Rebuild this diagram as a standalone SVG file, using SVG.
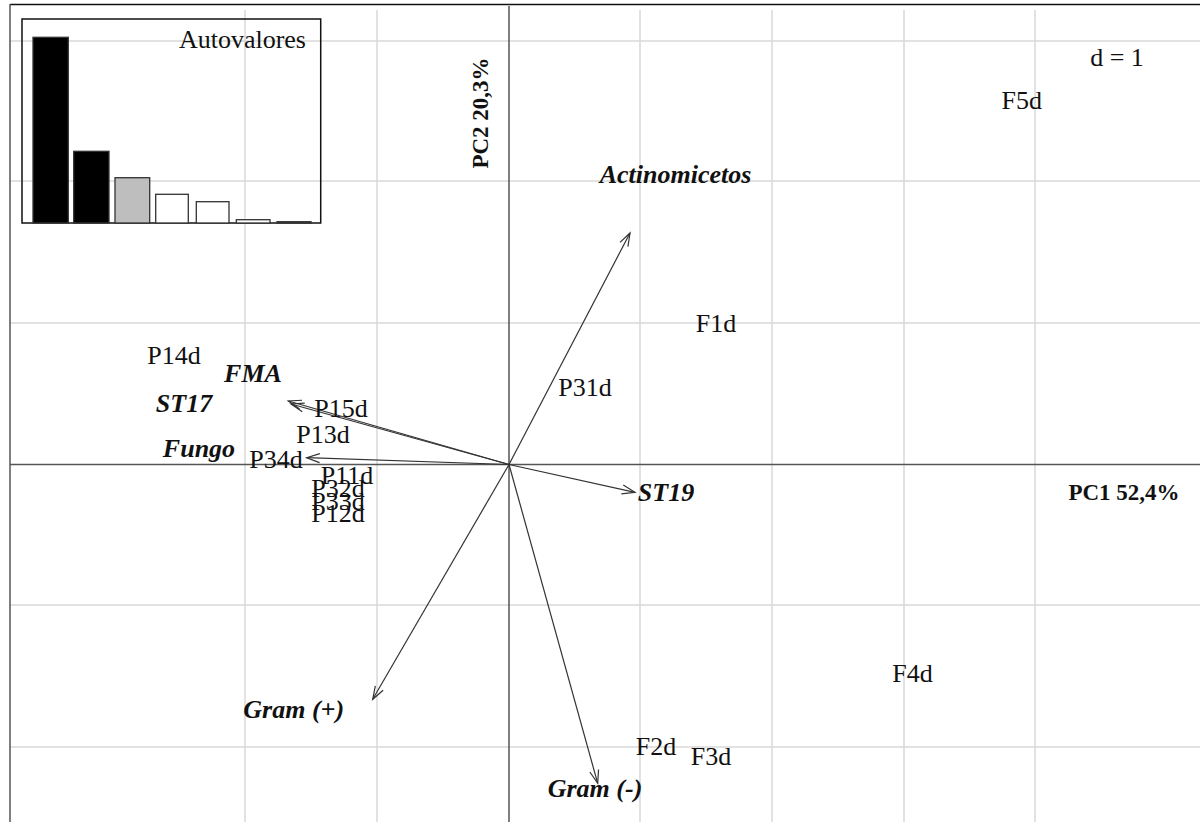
<svg xmlns="http://www.w3.org/2000/svg" width="1200" height="822" viewBox="0 0 1200 822">
<style>
.grid{stroke:#d9d9d9;stroke-width:1.5;fill:none}
.axis{stroke:#555;stroke-width:1.5;fill:none}
.lab{font-family:"Liberation Serif","Times New Roman",serif;font-size:26px;fill:#111;text-anchor:middle}
.var{font-family:"Liberation Serif","Times New Roman",serif;font-size:26px;fill:#111;text-anchor:middle;font-weight:bold;font-style:italic}
.ttl{font-family:"Liberation Serif","Times New Roman",serif;font-size:23px;fill:#111;font-weight:bold}
.arr{stroke:#333;stroke-width:1.2;fill:none;marker-end:url(#ah)}
.bar{stroke:#333;stroke-width:1.3}
</style>
<defs>
<marker id="ah" markerUnits="userSpaceOnUse" markerWidth="16" markerHeight="12" viewBox="0 0 16 12" refX="14" refY="6" orient="auto">
<path d="M1,1.5 L14,6 L1,10.5" fill="none" stroke="#333" stroke-width="1.2"/>
</marker>
</defs>
<rect width="1200" height="822" fill="#fff"/>
<g id="grid">
<path class="grid" d="M245,10V822M377,10V822M640,10V822M772,10V822M904,10V822M1035,10V822"/>
<path class="grid" d="M10,41H1200M10,181H1200M10,323H1200M10,605H1200M10,747H1200"/>
</g>
<g id="frame">
<line x1="10" y1="4.5" x2="1200" y2="4.5" stroke="#111" stroke-width="1.5"/>
<line x1="10" y1="4" x2="10" y2="822" stroke="#555" stroke-width="1.5"/>
</g>
<g id="axes">
<line class="axis" x1="10" y1="464.5" x2="1200" y2="464.5"/>
<line class="axis" x1="509" y1="6" x2="509" y2="822"/>
<text class="ttl" transform="translate(488,113) rotate(-90)" text-anchor="middle">PC2 20,3%</text>
<text class="ttl" x="1124" y="500" text-anchor="middle">PC1 52,4%</text>
<text class="lab" x="1117" y="66">d = 1</text>
</g>
<g id="inset">
<rect x="22" y="19" width="298.7" height="204" fill="none" stroke="#111" stroke-width="1.5"/>
<rect class="bar" x="33" y="37.3" width="35.3" height="185.7" fill="#000"/>
<rect class="bar" x="73.7" y="151.3" width="35.3" height="71.7" fill="#000"/>
<rect class="bar" x="115" y="177.7" width="34.7" height="45.3" fill="#bebebe"/>
<rect class="bar" x="155.7" y="194.3" width="32.6" height="28.7" fill="#fff"/>
<rect class="bar" x="196.3" y="201.7" width="32.7" height="21.3" fill="#fff"/>
<rect class="bar" x="236.3" y="219.7" width="33.7" height="3.3" fill="#fff"/>
<rect class="bar" x="277" y="221.7" width="34" height="1.3" fill="#fff"/>
<text class="lab" x="306" y="48" style="text-anchor:end">Autovalores</text>
</g>
<g id="connectors">
<line class="arr" x1="509" y1="464.5" x2="630" y2="233"/>
<line class="arr" x1="509" y1="464.5" x2="635" y2="492.3"/>
<line class="arr" x1="509" y1="464.5" x2="288.3" y2="401"/>
<line class="arr" x1="509" y1="464.5" x2="291" y2="404"/>
<line class="arr" x1="509" y1="464.5" x2="306.7" y2="457.7"/>
<line class="arr" x1="509" y1="464.5" x2="372.7" y2="699.3"/>
<line class="arr" x1="509" y1="464.5" x2="597.7" y2="783.3"/>
</g>
<g id="var-Actinomicetos"><text class="var" x="675.5" y="183.3">Actinomicetos</text></g>
<g id="var-ST19"><text class="var" x="666" y="501">ST19</text></g>
<g id="var-FMA"><text class="var" x="253" y="382.3">FMA</text></g>
<g id="var-ST17"><text class="var" x="184" y="412.3">ST17</text></g>
<g id="var-Fungo"><text class="var" x="199" y="456.7">Fungo</text></g>
<g id="var-GramPos"><text class="var" x="293.7" y="718.3">Gram (+)</text></g>
<g id="var-GramNeg"><text class="var" x="595" y="797.3">Gram (-)</text></g>
<g id="pt-P14d"><text class="lab" x="174" y="364.3">P14d</text></g>
<g id="pt-P15d"><text class="lab" x="341" y="417.3">P15d</text></g>
<g id="pt-P13d"><text class="lab" x="323" y="442.7">P13d</text></g>
<g id="pt-P34d"><text class="lab" x="276" y="468.3">P34d</text></g>
<g id="pt-P11d"><text class="lab" x="347" y="484">P11d</text></g>
<g id="pt-P32d"><text class="lab" x="338" y="497">P32d</text></g>
<g id="pt-P33d"><text class="lab" x="338" y="510">P33d</text></g>
<g id="pt-P12d"><text class="lab" x="338" y="522">P12d</text></g>
<g id="pt-P31d"><text class="lab" x="585" y="396">P31d</text></g>
<g id="pt-F1d"><text class="lab" x="716" y="332">F1d</text></g>
<g id="pt-F5d"><text class="lab" x="1021.7" y="109">F5d</text></g>
<g id="pt-F4d"><text class="lab" x="912.5" y="682.3">F4d</text></g>
<g id="pt-F2d"><text class="lab" x="656" y="755">F2d</text></g>
<g id="pt-F3d"><text class="lab" x="711" y="765">F3d</text></g>
</svg>
